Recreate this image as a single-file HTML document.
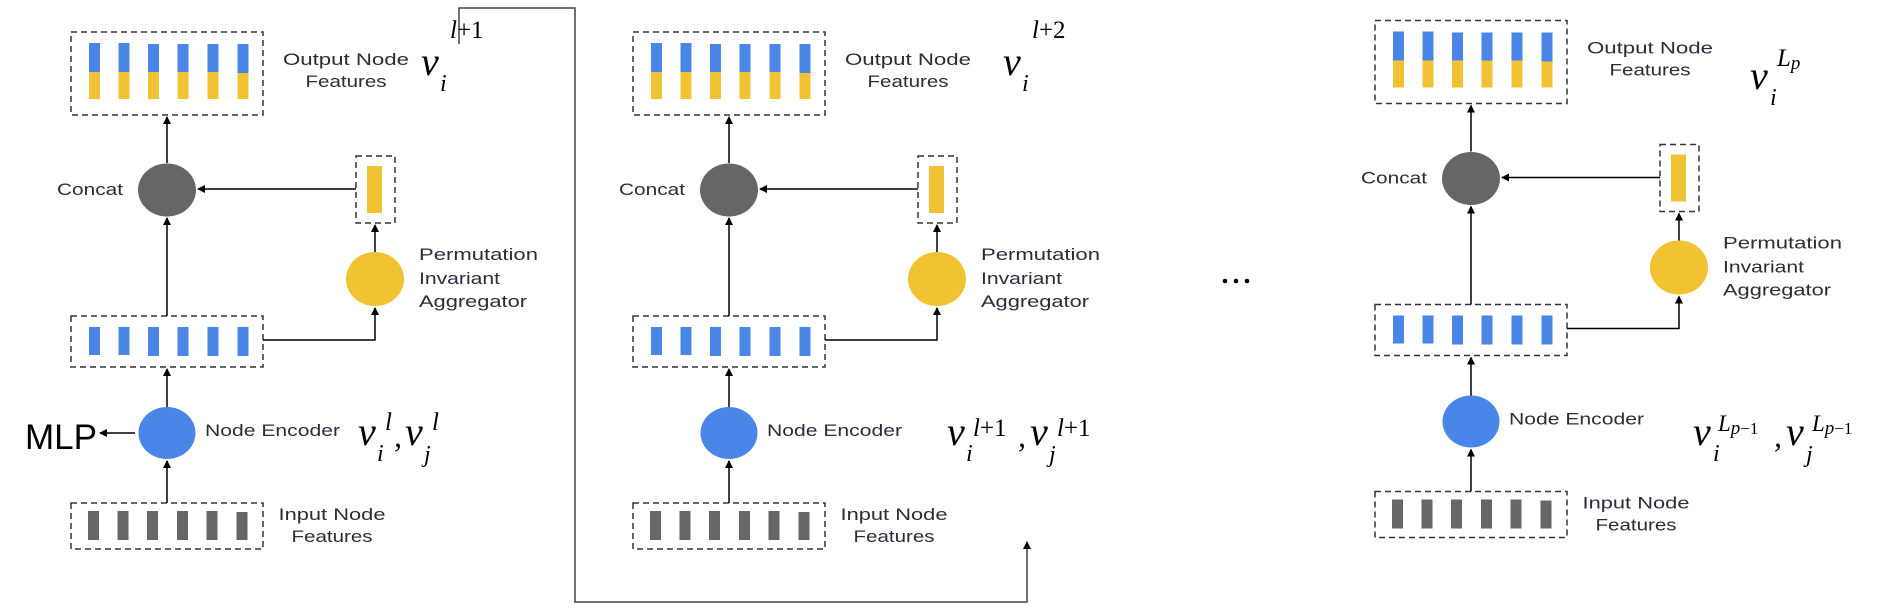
<!DOCTYPE html>
<html><head><meta charset="utf-8"><style>
html,body{margin:0;padding:0;background:#fff;}
svg{display:block;}
.t{font-family:"Liberation Sans",sans-serif;font-size:17px;fill:#2b2b3a;}
.m{font-family:"Liberation Serif",serif;font-style:italic;fill:#000;}
</style></head><body>
<svg width="1888" height="611" viewBox="0 0 1888 611" xmlns="http://www.w3.org/2000/svg">
<defs>
<marker id="ah" markerWidth="8" markerHeight="8" refX="7" refY="4" orient="auto" markerUnits="userSpaceOnUse">
<path d="M0,0 L8,4 L0,8 z" fill="#000"/></marker>
<g id="panel">
  <rect x="71" y="32" width="192" height="83" fill="none" stroke="#333" stroke-width="1.5" stroke-dasharray="6,4"/>
  <g>
    <rect x="89" y="43" width="11" height="29" fill="#4a86e8"/><rect x="89" y="72" width="11" height="27" fill="#f1c232"/>
    <rect x="118.5" y="43" width="11" height="29" fill="#4a86e8"/><rect x="118.5" y="72" width="11" height="27" fill="#f1c232"/>
    <rect x="148" y="44" width="11" height="28" fill="#4a86e8"/><rect x="148" y="72" width="11" height="27" fill="#f1c232"/>
    <rect x="177.5" y="44" width="11" height="28" fill="#4a86e8"/><rect x="177.5" y="72" width="11" height="27" fill="#f1c232"/>
    <rect x="207.5" y="44" width="11" height="28" fill="#4a86e8"/><rect x="207.5" y="72" width="11" height="27" fill="#f1c232"/>
    <rect x="237.5" y="44" width="11" height="29" fill="#4a86e8"/><rect x="237.5" y="73" width="11" height="26" fill="#f1c232"/>
  </g>
  <text class="t" x="346" y="65" text-anchor="middle" textLength="126" lengthAdjust="spacingAndGlyphs">Output Node</text>
  <text class="t" x="346" y="87" text-anchor="middle" textLength="81" lengthAdjust="spacingAndGlyphs">Features</text>
  <ellipse cx="167" cy="190" rx="29" ry="26.5" fill="#666"/>
  <text class="t" x="90" y="195" text-anchor="middle" textLength="66" lengthAdjust="spacingAndGlyphs">Concat</text>
  <line x1="167" y1="163" x2="167" y2="117" stroke="#000" stroke-width="1.5" marker-end="url(#ah)"/>
  <rect x="356" y="156" width="39" height="67" fill="none" stroke="#333" stroke-width="1.5" stroke-dasharray="6,4"/>
  <rect x="367" y="166" width="15" height="47" fill="#f1c232"/>
  <line x1="356" y1="189" x2="198" y2="189" stroke="#000" stroke-width="1.5" marker-end="url(#ah)"/>
  <ellipse cx="375" cy="279" rx="29" ry="27" fill="#f1c232"/>
  <line x1="375" y1="252" x2="375" y2="225" stroke="#000" stroke-width="1.5" marker-end="url(#ah)"/>
  <text class="t" x="419" y="260" textLength="119" lengthAdjust="spacingAndGlyphs">Permutation</text>
  <text class="t" x="419" y="284" textLength="81" lengthAdjust="spacingAndGlyphs">Invariant</text>
  <text class="t" x="419" y="307" textLength="108" lengthAdjust="spacingAndGlyphs">Aggregator</text>
  <rect x="71" y="316" width="192" height="51" fill="none" stroke="#333" stroke-width="1.5" stroke-dasharray="6,4"/>
  <g fill="#4a86e8">
    <rect x="89" y="327" width="11" height="28"/><rect x="118.5" y="327" width="11" height="28"/>
    <rect x="148" y="327" width="11" height="29"/><rect x="177.5" y="327" width="11" height="29"/>
    <rect x="207.5" y="327" width="11" height="29"/><rect x="237.5" y="327" width="11" height="29"/>
  </g>
  <line x1="167" y1="316" x2="167" y2="218" stroke="#000" stroke-width="1.5" marker-end="url(#ah)"/>
  <polyline points="263,340 375,340 375,308" fill="none" stroke="#000" stroke-width="1.5" marker-end="url(#ah)"/>
  <ellipse cx="167" cy="433" rx="28.5" ry="26" fill="#4a86e8"/>
  <line x1="167" y1="407" x2="167" y2="369" stroke="#000" stroke-width="1.5" marker-end="url(#ah)"/>
  <text class="t" x="205" y="436" textLength="135" lengthAdjust="spacingAndGlyphs">Node Encoder</text>
  <rect x="71" y="503" width="192" height="46" fill="none" stroke="#333" stroke-width="1.5" stroke-dasharray="6,4"/>
  <g fill="#666">
    <rect x="88" y="511" width="11" height="29"/><rect x="117.5" y="511" width="11" height="29"/>
    <rect x="147" y="511" width="11" height="29"/><rect x="177" y="511" width="11" height="29"/>
    <rect x="206.5" y="511" width="11" height="29"/><rect x="236.5" y="512" width="11" height="28"/>
  </g>
  <line x1="167" y1="503" x2="167" y2="461" stroke="#000" stroke-width="1.5" marker-end="url(#ah)"/>
  <text class="t" x="332" y="520" text-anchor="middle" textLength="107" lengthAdjust="spacingAndGlyphs">Input Node</text>
  <text class="t" x="332" y="542" text-anchor="middle" textLength="81" lengthAdjust="spacingAndGlyphs">Features</text>
</g>
</defs>

<use href="#panel"/>
<use href="#panel" transform="translate(562,0)"/>
<use href="#panel" transform="translate(1304,-11.5)"/>

<text x="25" y="449" font-family="Liberation Sans, sans-serif" font-size="35" fill="#000">MLP</text>
<line x1="135" y1="433" x2="100" y2="433" stroke="#000" stroke-width="1.5" marker-end="url(#ah)"/>

<polyline points="459,44 459,8 575,8 575,602 1027,602 1027,542" fill="none" stroke="#444" stroke-width="1.5" marker-end="url(#ah)"/>

<circle cx="1225" cy="281" r="2.3" fill="#000"/>
<circle cx="1236" cy="281" r="2.3" fill="#000"/>
<circle cx="1247" cy="281" r="2.3" fill="#000"/>

<text class="m" x="421" y="75" font-size="40">v</text>
<text class="m" x="440" y="91" font-size="24">i</text>
<text class="m" x="450" y="38" font-size="25">l<tspan font-style="normal">+1</tspan></text>

<text class="m" x="1003" y="75" font-size="40">v</text>
<text class="m" x="1022" y="91" font-size="24">i</text>
<text class="m" x="1032" y="38" font-size="25">l<tspan font-style="normal">+2</tspan></text>

<text class="m" x="358" y="445" font-size="40">v</text>
<text class="m" x="377" y="461" font-size="24">i</text>
<text class="m" x="385" y="430" font-size="25">l</text>
<text class="m" x="394" y="447" font-size="32">,</text>
<text class="m" x="405" y="445" font-size="40">v</text>
<text class="m" x="424" y="462" font-size="24">j</text>
<text class="m" x="432" y="430" font-size="25">l</text>

<text class="m" x="947" y="445" font-size="40">v</text>
<text class="m" x="966" y="461" font-size="24">i</text>
<text class="m" x="973" y="436" font-size="25">l<tspan font-style="normal">+1</tspan></text>
<text class="m" x="1018" y="447" font-size="32">,</text>
<text class="m" x="1030" y="445" font-size="40">v</text>
<text class="m" x="1049" y="462" font-size="24">j</text>
<text class="m" x="1057" y="436" font-size="25">l<tspan font-style="normal">+1</tspan></text>

<text class="m" x="1750" y="89" font-size="40">v</text>
<text class="m" x="1770" y="105" font-size="24">i</text>
<text class="m" x="1777" y="66" font-size="25">L<tspan font-size="19" dy="3">p</tspan></text>

<text class="m" x="1693" y="445" font-size="40">v</text>
<text class="m" x="1713" y="461" font-size="24">i</text>
<text class="m" x="1718" y="431" font-size="23">L<tspan font-size="19" dy="3">p</tspan><tspan font-style="normal" font-size="17">−1</tspan></text>
<text class="m" x="1774" y="447" font-size="32">,</text>
<text class="m" x="1786" y="445" font-size="40">v</text>
<text class="m" x="1806" y="462" font-size="24">j</text>
<text class="m" x="1812" y="431" font-size="23">L<tspan font-size="19" dy="3">p</tspan><tspan font-style="normal" font-size="17">−1</tspan></text>
</svg>
</body></html>
